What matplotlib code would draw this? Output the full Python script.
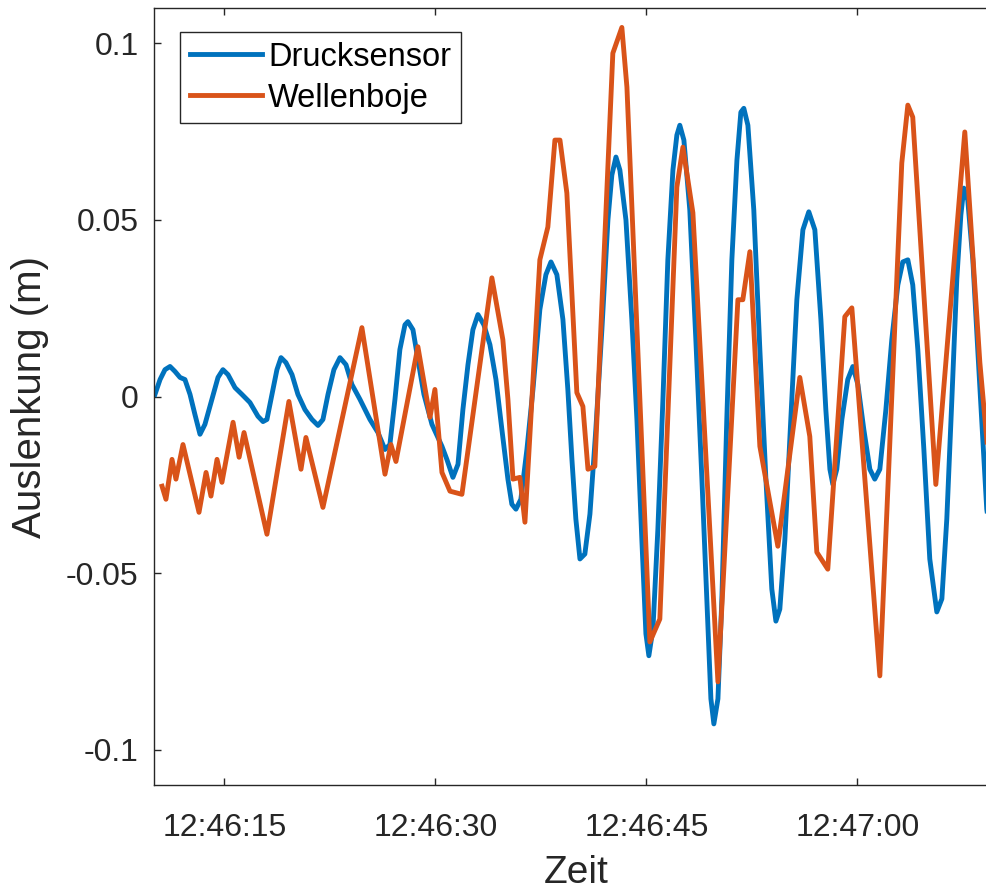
import numpy as np
import matplotlib
matplotlib.use("Agg")
import matplotlib.pyplot as plt
import matplotlib.dates as mdates

# seconds after 12:46:10 and elevation in metres
t_druck = [0.07, 0.43, 0.78, 1.14, 1.49, 1.85, 2.20, 2.56, 2.91, 3.27, 3.62, 4.12, 4.55, 4.90,
           5.26, 5.76, 6.25, 6.82, 7.39, 7.75, 8.03, 8.39, 8.74, 9.03, 9.38, 9.81, 10.23, 10.73,
           11.23, 11.66, 12.01, 12.37, 12.79, 13.22, 13.65, 14.07, 14.64, 15.35, 15.92, 16.42,
           16.77, 17.13, 17.48, 17.84, 18.05, 18.41, 18.76, 19.19, 19.76, 20.47, 20.82, 21.25,
           21.61, 21.96, 22.32, 22.67, 23.03, 23.45, 23.88, 24.31, 24.73, 25.16, 25.44, 25.73,
           26.08, 26.51, 26.94, 27.43, 27.86, 28.22, 28.64, 29.07, 29.42, 29.71, 29.99, 30.28,
           30.63, 30.99, 31.41, 31.84, 32.27, 32.55, 32.84, 33.12, 33.55, 33.97, 34.33, 34.68,
           34.97, 35.18, 35.47, 35.82, 36.18, 36.53, 36.89, 37.17, 37.38, 37.67, 38.09, 38.52,
           38.95, 39.30, 39.59, 39.80, 40.09, 40.37, 40.72, 41.08, 41.44, 41.72, 41.93, 42.22,
           42.64, 43.07, 43.50, 43.92, 44.21, 44.49, 44.85, 45.27, 45.70, 46.13, 46.55, 46.98,
           47.41, 47.76, 48.05, 48.26, 48.54, 48.90, 49.32, 49.68, 50.04, 50.46, 50.89, 51.24,
           51.60, 52.03, 52.45, 52.88, 53.23, 53.59, 53.94, 54.30, 54.73, 55.15, 55.65, 56.01,
           56.36, 56.72, 57.07, 57.36, 57.57, 57.85, 58.21, 58.56, 58.92, 59.20, 59.60]
h_druck = [0.0006, 0.0048, 0.0076, 0.0085, 0.0071, 0.0054, 0.0048, 0.0006, -0.0051, -0.0107,
           -0.0079, -0.0008, 0.0054, 0.0076, 0.0062, 0.0025, 0.0006, -0.0017, -0.0056, -0.0071,
           -0.0065, 0.0006, 0.0076, 0.0110, 0.0096, 0.0062, 0.0006, -0.0037, -0.0065, -0.0082,
           -0.0065, 0.0006, 0.0076, 0.0110, 0.0090, 0.0034, -0.0008, -0.0065, -0.0102, -0.0150,
           -0.0136, -0.0008, 0.0133, 0.0203, 0.0212, 0.0189, 0.0105, 0.0006, -0.0079, -0.0141,
           -0.0178, -0.0229, -0.0192, -0.0037, 0.0090, 0.0189, 0.0232, 0.0203, 0.0147, 0.0048,
           -0.0093, -0.0234, -0.0305, -0.0319, -0.0291, -0.0150, 0.0020, 0.0246, 0.0345, 0.0381,
           0.0345, 0.0218, 0.0020, -0.0178, -0.0347, -0.0460, -0.0446, -0.0333, -0.0093, 0.0189,
           0.0500, 0.0627, 0.0678, 0.0641, 0.0500, 0.0218, -0.0065, -0.0404, -0.0672, -0.0734,
           -0.0658, -0.0376, -0.0008, 0.0387, 0.0641, 0.0740, 0.0768, 0.0726, 0.0528, 0.0161,
           -0.0234, -0.0573, -0.0856, -0.0927, -0.0856, -0.0573, -0.0065, 0.0387, 0.0669, 0.0805,
           0.0816, 0.0768, 0.0528, 0.0133, -0.0234, -0.0545, -0.0636, -0.0602, -0.0404, -0.0065,
           0.0274, 0.0472, 0.0523, 0.0472, 0.0218, -0.0037, -0.0206, -0.0249, -0.0206, -0.0065,
           0.0048, 0.0085, 0.0034, -0.0093, -0.0206, -0.0234, -0.0206, -0.0037, 0.0161, 0.0316,
           0.0381, 0.0387, 0.0316, 0.0133, -0.0150, -0.0460, -0.0610, -0.0573, -0.0347, -0.0008,
           0.0331, 0.0514, 0.0590, 0.0556, 0.0387, 0.0133, -0.0121, -0.0319, -0.0430]

t_boje = [0.57, 0.85, 1.28, 1.56, 2.06, 3.20, 3.70, 4.05, 4.48, 4.83, 5.62, 6.05, 6.40, 8.03,
          9.59, 10.45, 10.80, 12.01, 14.78, 16.42, 16.84, 17.20, 18.76, 19.62, 19.97, 20.47,
          21.04, 21.89, 24.02, 24.80, 25.16, 25.52, 26.01, 26.37, 27.43, 28.00, 28.50, 28.86,
          29.35, 30.06, 30.49, 30.85, 31.34, 32.62, 33.26, 33.62, 34.54, 35.25, 35.96, 37.17,
          37.60, 38.31, 40.09, 41.51, 41.86, 42.36, 43.07, 44.35, 45.91, 46.62, 47.12, 47.90,
          49.11, 49.61, 51.60, 53.16, 53.59, 53.94, 55.58, 57.64, 58.71, 59.20, 59.60]
h_boje = [-0.0254, -0.0291, -0.0178, -0.0234, -0.0136, -0.0328, -0.0215, -0.0282, -0.0178,
          -0.0243, -0.0073, -0.0172, -0.0102, -0.0390, -0.0014, -0.0206, -0.0116, -0.0314,
          0.0195, -0.0220, -0.0136, -0.0184, 0.0141, -0.0059, 0.0020, -0.0215, -0.0268,
          -0.0277, 0.0336, 0.0161, -0.0008, -0.0234, -0.0229, -0.0356, 0.0387, 0.0480, 0.0726,
          0.0726, 0.0576, 0.0011, -0.0028, -0.0206, -0.0198, 0.0972, 0.1045, 0.0876, -0.0008,
          -0.0695, -0.0630, 0.0593, 0.0706, 0.0520, -0.0808, 0.0274, 0.0274, 0.0410, -0.0141,
          -0.0424, 0.0054, -0.0113, -0.0441, -0.0489, 0.0226, 0.0251, -0.0791, 0.0661, 0.0825,
          0.0791, -0.0249, 0.0749, 0.0096, -0.0121, -0.0300]

y_ticks = [-0.1, -0.05, 0, 0.05, 0.1]
y_ticklabels = ['-0.1', '-0.05', '0', '0.05', '0.1']

start = np.datetime64('2019-06-01T12:46:10')

def to_time(secs):
    return start + (np.array(secs) * 1000).astype('timedelta64[ms]')

plt.rcParams['font.family'] = ['Liberation Sans', 'DejaVu Sans']
dark = '#262626'

fig = plt.figure(figsize=(9.87, 8.93), dpi=100)
ax = fig.add_axes([154/987, 1 - 785/893, 844/987, 777/893])

ax.plot(to_time(t_druck), h_druck, color='#0072BD', lw=3.5, label='Drucksensor')
ax.plot(to_time(t_boje), h_boje, color='#D95319', lw=3.5, label='Wellenboje')

ax.set_xlim(start, start + np.timedelta64(60, 's'))
ax.set_ylim(-0.11, 0.11)
ax.xaxis.set_major_locator(mdates.SecondLocator(bysecond=[0, 15, 30, 45]))
ax.xaxis.set_major_formatter(mdates.DateFormatter('%H:%M:%S'))
ax.set_yticks(y_ticks)
ax.set_yticklabels(y_ticklabels)

ax.tick_params(direction='in', top=True, right=True, length=5, width=1,
               colors=dark, labelsize=23)
ax.tick_params(axis='x', pad=20)
ax.tick_params(axis='y', pad=11)
for s in ax.spines.values():
    s.set_color(dark)
    s.set_linewidth(1)

ax.set_xlabel('Zeit', fontsize=28, color=dark, labelpad=9)
ax.set_ylabel('Auslenkung (m)', fontsize=29, color=dark, labelpad=12)

leg = ax.legend(loc='upper left', bbox_to_anchor=(0.031, 0.969), borderaxespad=0,
                fontsize=23.5, fancybox=False, handlelength=2.2, handletextpad=0.2,
                labelspacing=0.3, borderpad=0.3, framealpha=1)
leg.get_frame().set_edgecolor(dark)
leg.get_frame().set_linewidth(1)

fig.savefig('out.png', dpi=100)
